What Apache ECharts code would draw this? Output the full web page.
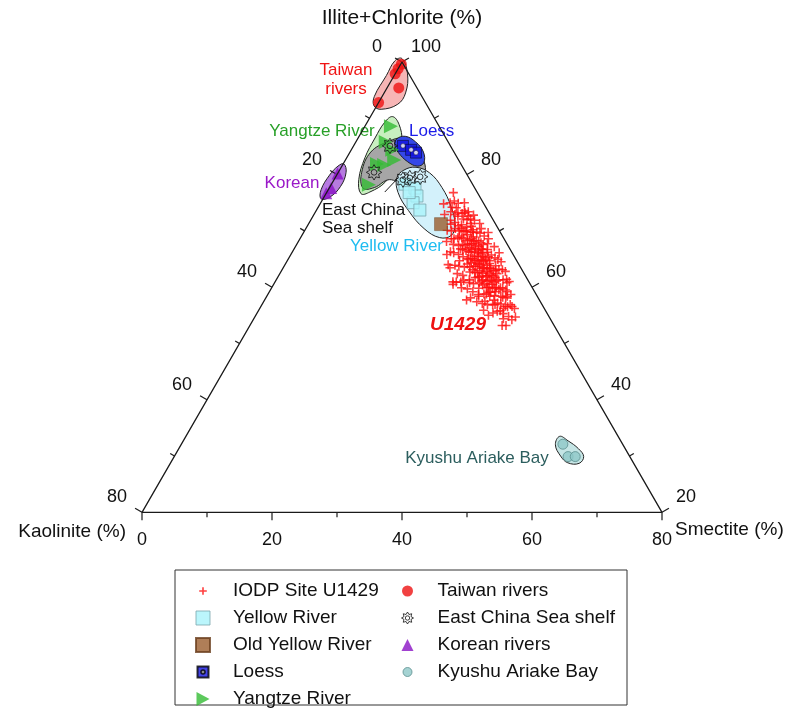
<!DOCTYPE html>
<html>
<head>
<meta charset="utf-8">
<title>Clay minerals ternary</title>
<script src="https://cdn.jsdelivr.net/npm/echarts/dist/echarts.min.js"></script>
<style>
  html, body { margin: 0; padding: 0; background: #fff; }
  #chart { width: 788px; height: 718px; }
</style>
</head>
<body>
<div id="chart"></div>
<script>
// every point is [smectite %, kaolinite %]; illite+chlorite = 100 - smectite - kaolinite
const u1429 = [
  [19.5, 3.7], [19.9, 5.1], [20.4, 4.3], [19.0, 6.2], [20.8, 5.8], [21.2, 3.9], [21.5, 6.6], [20.1, 7.0],
  [22.0, 4.8], [21.7, 5.4], [22.4, 6.1], [22.8, 3.6], [23.1, 3.7], [23.9, 3.5], [22.6, 7.4], [22.8, 9.1],
  [21.9, 8.0], [24.0, 10.2],
  [23.4, 4.5], [23.6, 5.3], [23.8, 6.2], [24.0, 4.0], [24.2, 7.0], [24.4, 5.6], [24.6, 4.7], [24.8, 6.4],
  [24.1, 8.3], [25.0, 5.1], [25.1, 10.9], [25.3, 3.9], [25.5, 6.9], [25.65, 10.9], [25.7, 4.5], [25.9, 5.8],
  [25.0, 7.6], [24.5, 3.4], [26.0, 7.3], [26.1, 4.2], [26.3, 6.1], [26.4, 5.0], [25.8, 8.4], [26.6, 3.6],
  [26.7, 7.9], [26.8, 5.5], [23.7, 7.7], [24.9, 9.0], [23.2, 5.9], [25.2, 2.9],
  [27.0, 4.8], [27.1, 6.6], [27.2, 3.2], [27.36, 11.7], [27.4, 5.9], [27.5, 7.4], [27.6, 11.9], [27.7, 4.1],
  [27.8, 8.6], [27.9, 5.3], [28.0, 6.9], [28.1, 2.8], [28.2, 4.6], [28.3, 9.6], [28.4, 6.1], [28.5, 5.0],
  [28.6, 7.8], [28.7, 3.7], [28.8, 6.5], [28.9, 5.6], [29.0, 4.3], [29.1, 8.2], [29.2, 7.1], [29.3, 3.0],
  [29.4, 5.9], [29.5, 6.8], [29.6, 4.9], [29.7, 9.0], [29.8, 5.4], [29.9, 7.5], [30.0, 3.8], [30.1, 6.2],
  [27.3, 10.3], [26.9, 9.4], [28.6, 10.5], [30.2, 4.6], [27.0, 2.6], [26.5, 8.8], [29.0, 2.4], [28.0, 7.9],
  [30.3, 5.2], [30.4, 7.9], [30.5, 6.6], [30.6, 4.0], [30.7, 8.7], [30.8, 5.8], [30.9, 3.4], [31.0, 7.2],
  [31.06, 11.2], [31.1, 5.0], [31.2, 6.3], [31.3, 9.5], [31.4, 4.4], [31.5, 7.7], [31.6, 5.6], [31.7, 3.1],
  [31.8, 6.9], [31.9, 8.3], [32.0, 4.7], [32.1, 5.9], [32.2, 7.4], [32.4, 8.9], [32.5, 3.7], [32.6, 6.4],
  [32.7, 5.2], [32.8, 9.8], [32.9, 4.1], [33.0, 7.0], [33.1, 5.7], [33.2, 8.0], [33.3, 3.5], [33.4, 6.6],
  [33.5, 4.8], [33.6, 7.6], [33.7, 5.4], [33.8, 9.1], [33.9, 3.0], [34.0, 6.1], [30.2, 10.1], [31.5, 10.4],
  [32.3, 2.8], [33.0, 2.5],
  [34.2, 4.5], [34.3, 7.3], [34.5, 5.5], [34.7, 8.4], [34.9, 3.8], [35.0, 6.5], [35.2, 4.9], [35.4, 3.2],
  [35.5, 7.6], [35.75, 3.45], [35.86, 7.24], [36.0, 5.6], [36.2, 4.3], [36.3, 8.3], [36.55, 4.25], [36.7, 6.3],
  [36.9, 5.0], [37.2, 7.0], [37.4, 3.9], [37.6, 5.8], [37.9, 6.8], [38.2, 4.9], [38.65, 4.8], [34.6, 9.5],
  [35.8, 9.2], [39.0, 6.2], [39.8, 6.0], [40.1, 5.2], [39.4, 7.4], [38.8, 8.0],
  [20.6, 5.2], [21.3, 4.6], [21.9, 6.9], [22.3, 5.1], [22.7, 4.2], [23.0, 6.6], [23.3, 8.1], [23.5, 3.1],
  [23.9, 5.7], [24.3, 6.6], [24.7, 5.3], [24.9, 3.8], [25.2, 6.2], [25.4, 5.3], [25.6, 7.6], [25.8, 4.0],
  [26.0, 6.6], [26.2, 5.4], [26.5, 4.6], [26.6, 6.9], [26.9, 6.1], [27.1, 5.2], [27.3, 4.4], [27.5, 6.3],
  [27.6, 5.0], [27.8, 7.3], [28.0, 5.7], [28.2, 3.9], [28.3, 6.6], [28.5, 7.2], [28.7, 5.2], [28.8, 4.4],
  [29.0, 6.2], [29.1, 5.0], [29.3, 7.6], [29.4, 4.5], [29.6, 6.3], [29.8, 3.5], [29.9, 6.0], [30.1, 5.1],
  [30.3, 7.1], [30.5, 4.7], [30.6, 6.0], [30.8, 7.4], [31.0, 5.6], [31.1, 4.2], [31.3, 6.7], [31.5, 5.2],
  [31.7, 7.2], [31.8, 4.8], [32.0, 6.2], [32.2, 5.4], [32.4, 7.0], [32.6, 4.5], [32.8, 6.0], [33.0, 5.0],
  [33.2, 6.9], [33.4, 4.2], [33.6, 5.9], [33.8, 7.1], [34.0, 4.9], [34.1, 6.8], [34.4, 5.8], [34.8, 6.0],
  [35.1, 5.3], [35.3, 7.0], [35.6, 4.6], [36.1, 6.7], [36.4, 5.4], [36.8, 7.5], [37.0, 4.6], [37.5, 6.3],
  [38.0, 5.5], [38.4, 7.2], [39.2, 4.6],
  [22.1, 2.9], [24.6, 2.6], [26.3, 2.4], [28.4, 1.9], [30.6, 2.2], [31.9, 2.0], [34.5, 2.7], [36.0, 3.0],
  [24.3, 9.4], [26.2, 9.9], [28.9, 9.9], [30.0, 9.2], [32.6, 9.0], [34.0, 8.5], [29.2, 10.9], [27.9, 11.2]
];
const taiwanRivers = [[0.1, 0.3], [0, 1.2], [0, 2.1], [1.8, 2.8], [0, 7.2]];
const yellowRiver = [[11.3, 10.4], [13.2, 9.2], [14.2, 9.6], [14.2, 10.8], [15.9, 10.4], [12.7, 10.5]];
const oldYellowRiver = [[20.4, 8.4]];
const loess = [[7.6, 7.3], [9.2, 6.4], [10.2, 5.9]];
const yangtze = [[4.0, 7.4], [4.6, 9.6], [6.3, 9.3], [7.5, 9.9], [5.2, 12.9], [5.8, 16.0], [6.4, 11.9]];
const ecsShelf = [[5.6, 9.3], [5.5, 14.1], [11.5, 9.1], [13.0, 7.4], [10.6, 10.3]];
const korean = [[0, 19.8], [0.3, 22.1], [0, 23.3]];
const kyushu = [[58.7, 9.2], [60.6, 9.5], [61.7, 8.4]];

// outlines of the source fields
const taiwanField = [[-0.3, -0.3], [1.9, 0.2], [3.3, 2.2], [3.1, 4.4], [1.0, 7.4], [-0.4, 8.2], [-1.2, 7.3], [-1.2, 3.6], [-1.2, 1.0]];
const yangtzeField = [[3.4, 6.3], [5.1, 6.0], [7.0, 7.0], [8.3, 9.3], [8.1, 13.2], [6.6, 16.5], [5.4, 18.0], [3.8, 17.1], [2.8, 14.2], [2.6, 10.9], [2.7, 8.0]];
const ecsField = [[3.2, 12.8], [5.0, 9.1], [6.9, 6.7], [9.8, 5.6], [12.7, 5.6], [13.6, 7.7], [11.4, 10.5], [8.5, 12.4], [6.9, 15.4], [5.2, 17.2], [3.6, 16.0]];
const loessField = [[6.0, 7.7], [7.1, 6.1], [9.2, 5.0], [11.3, 4.7], [12.3, 5.6], [11.6, 6.9], [9.7, 8.0], [7.5, 8.6], [6.3, 8.5]];
const yellowField = [[9.5, 11.1], [9.9, 9.3], [11.5, 7.2], [14.1, 5.6], [17.3, 5.0], [20.4, 5.3], [22.6, 6.3], [23.0, 7.8], [21.4, 9.8], [18.2, 11.4], [14.2, 12.2], [11.0, 12.2]];
const koreanField = [[0.1, 18.0], [1.2, 18.4], [1.6, 20.5], [0.9, 23.1], [-0.3, 24.6], [-1.1, 23.8], [-1.1, 21.2], [-0.6, 19.1]];
const kyushuField = [[57.5, 9.0], [59.2, 8.1], [61.5, 7.2], [63.0, 7.1], [62.9, 8.4], [61.1, 10.1], [59.4, 10.6], [57.6, 10.4]];
const ecsLeader = [[8.9, 14.2], [9.7, 10.9]];

// axis ticks
const tickSteps = [0, 10, 20, 30, 40, 50, 60, 70, 80];
const labelSteps = [0, 20, 40, 60, 80];

const FONT = '"Liberation Sans", Arial, sans-serif';
const SQ3 = Math.sqrt(3) / 2;

// ternary -> cartesian (bottom-left corner = 0,0, side length 80)
function toXY(p) {
  const h = 80 - p[0] - p[1];
  return [p[0] + h / 2, h * SQ3];
}

const icons = {
  plus: 'path://M0,0M14,14M6.2,3.2H7.8V6.2H10.8V7.8H7.8V10.8H6.2V7.8H3.2V6.2H6.2Z',
  square: 'path://M0,0H14V14H0Z',
  loess: 'path://M0,0M14,14M1.5,1.5H12.5V12.5H1.5Z M7,5.2A1.8,1.8 0 1 0 7,8.8A1.8,1.8 0 1 0 7,5.2Z',
  triRight: 'path://M0,0L13,7L0,14Z',
  circle: 'path://M0,0M14,14M7,1.5A5.5,5.5 0 1 1 7,12.5A5.5,5.5 0 1 1 7,1.5Z',
  sun: 'path://M0,0M14,14M13,7L10.51,8.45L11.24,11.24L8.45,10.51L7,13L5.55,10.51L2.76,11.24L3.49,8.45L1,7L3.49,5.55L2.76,2.76L5.55,3.49L7,1L8.45,3.49L11.24,2.76L10.51,5.55Z M9.2,7A2.2,2.2 0 1 1 4.8,7A2.2,2.2 0 1 1 9.2,7Z',
  triUp: 'path://M0,0M14,14M7,1L13,13H1Z',
  smallCircle: 'path://M0,0M14,14M7,2.5A4.5,4.5 0 1 1 7,11.5A4.5,4.5 0 1 1 7,2.5Z'
};

function field(name, pts, fill) {
  return {
    type: 'custom',
    name: name,
    silent: true,
    data: [[40, 30]],
    renderItem: function (params, api) {
      return {
        type: 'polygon',
        shape: { points: pts.map(p => api.coord(toXY(p))), smooth: 0.4 },
        style: { fill: fill, stroke: '#222', lineWidth: 1 }
      };
    }
  };
}

function points(name, arr, symbol, size, style) {
  return {
    type: 'scatter',
    name: name,
    data: arr.map(toXY),
    symbol: symbol,
    symbolSize: size,
    itemStyle: style
  };
}

// tick items: [smectite, kaolinite, side, label or -1]
const tickData = [];
tickSteps.forEach(t => {
  const lab = labelSteps.indexOf(t) >= 0;
  tickData.push([t, 80 - t, 0, lab ? t : -1]);        // Smectite, bottom side
  tickData.push([0, t, 1, lab ? t : -1]);             // Kaolinite, left side
  tickData.push([80 - t, 0, 2, lab ? 20 + t : -1]);   // Illite+Chlorite, right side
});
const tickDir = [[0, 1], [-0.866, -0.5], [0.866, -0.5]];
const labelOff = [[0, 28], [-25, -15], [24, -15]];

const legendText = { fontSize: 19, lineHeight: 19, color: '#111', fontFamily: FONT };

const chart = echarts.init(document.getElementById('chart'));
const option = {
  animation: false,
  textStyle: { fontFamily: FONT },
  grid: { left: 142, top: 62, width: 520, height: 450.33 },
  xAxis: { type: 'value', min: 0, max: 80, show: false },
  yAxis: { type: 'value', min: 0, max: 80 * SQ3, show: false },
  legend: [
    {
      orient: 'vertical', left: 190, top: 576.5, itemWidth: 50, itemHeight: 14, itemGap: 8,
      selectedMode: false,
      textStyle: legendText,
      data: [
        { name: 'IODP Site U1429', icon: icons.plus },
        { name: 'Yellow River', icon: icons.square, itemStyle: { borderWidth: 1 } },
        { name: 'Old Yellow River', icon: icons.square },
        { name: 'Loess', icon: icons.loess },
        { name: 'Yangtze River', icon: icons.triRight }
      ]
    },
    {
      orient: 'vertical', left: 395, top: 576.5, itemWidth: 50, itemHeight: 14, itemGap: 8,
      selectedMode: false,
      textStyle: legendText,
      data: [
        { name: 'Taiwan rivers', icon: icons.circle },
        { name: 'East China Sea shelf', icon: icons.sun, itemStyle: { borderWidth: 1 } },
        { name: 'Korean rivers', icon: icons.triUp },
        { name: 'Kyushu Ariake Bay', icon: icons.smallCircle, itemStyle: { borderWidth: 1 } }
      ]
    }
  ],
  graphic: [
    { type: 'rect', shape: { x: 175, y: 570, width: 452, height: 135 }, style: { fill: 'none', stroke: '#333', lineWidth: 1 } },
    { type: 'text', x: 402, y: 18, style: { text: 'Illite+Chlorite (%)', font: '21px ' + FONT, fill: '#111', align: 'center', verticalAlign: 'middle' } },
    { type: 'text', x: 126, y: 532, style: { text: 'Kaolinite (%)', font: '19px ' + FONT, fill: '#111', align: 'right', verticalAlign: 'middle' } },
    { type: 'text', x: 675, y: 530, style: { text: 'Smectite (%)', font: '19px ' + FONT, fill: '#111', align: 'left', verticalAlign: 'middle' } },
    { type: 'text', x: 346, y: 80, style: { text: 'Taiwan\nrivers', font: '17px ' + FONT, lineHeight: 19, fill: '#f01414', align: 'center', verticalAlign: 'middle' } },
    { type: 'text', x: 322, y: 131, style: { text: 'Yangtze River', font: '17px ' + FONT, fill: '#28a028', align: 'center', verticalAlign: 'middle' } },
    { type: 'text', x: 409, y: 131, style: { text: 'Loess', font: '17px ' + FONT, fill: '#1c1ce8', align: 'left', verticalAlign: 'middle' } },
    { type: 'text', x: 292, y: 183, style: { text: 'Korean', font: '17px ' + FONT, fill: '#9a18c8', align: 'center', verticalAlign: 'middle' } },
    { type: 'text', x: 322, y: 219, style: { text: 'East China\nSea shelf', font: '17px ' + FONT, lineHeight: 18, fill: '#111', align: 'left', verticalAlign: 'middle' } },
    { type: 'text', x: 443, y: 246, style: { text: 'Yellow River', font: '17px ' + FONT, fill: '#1ebcf0', align: 'right', verticalAlign: 'middle' } },
    { type: 'text', x: 458, y: 325, style: { text: 'U1429', font: 'italic bold 19px ' + FONT, fill: '#ee1111', align: 'center', verticalAlign: 'middle' } },
    { type: 'text', x: 477, y: 458, style: { text: 'Kyushu Ariake Bay', font: '17px ' + FONT, fill: '#2c5e5e', align: 'center', verticalAlign: 'middle' } }
  ],
  series: [
    field('Taiwan field', taiwanField, '#f7b5b5'),
    field('Yangtze field', yangtzeField, '#c8efc0'),
    field('ECS field', ecsField, '#a6a6a6'),
    field('Yellow field', yellowField, '#d3f1fb'),
    field('Loess field', loessField, '#3448e8'),
    field('Korean field', koreanField, '#b67be0'),
    field('Kyushu field', kyushuField, '#c5e5e5'),
    {
      type: 'line', name: 'frame', silent: true, symbol: 'none',
      data: [[0, 0], [0, 80], [80, 0], [0, 0]].map(toXY),
      lineStyle: { color: '#1a1a1a', width: 1.3 }
    },
    {
      type: 'line', name: 'ecs leader', silent: true, symbol: 'none',
      data: ecsLeader.map(toXY),
      lineStyle: { color: '#1a1a1a', width: 1 }
    },
    {
      type: 'custom', name: 'ticks', silent: true,
      data: tickData,
      renderItem: function (params, api) {
        const side = api.value(2), lab = api.value(3);
        const pt = api.coord(toXY([api.value(0), api.value(1)]));
        const d = tickDir[side];
        const len = lab >= 0 ? 8 : 5;
        const children = [{
          type: 'line',
          shape: { x1: pt[0], y1: pt[1], x2: pt[0] + d[0] * len, y2: pt[1] + d[1] * len },
          style: { stroke: '#1a1a1a', lineWidth: 1.2 }
        }];
        if (lab >= 0) {
          children.push({
            type: 'text',
            x: pt[0] + labelOff[side][0], y: pt[1] + labelOff[side][1],
            style: { text: String(lab), font: '18px ' + FONT, fill: '#111', align: 'center', verticalAlign: 'middle' }
          });
        }
        return { type: 'group', children: children };
      }
    },
    points('IODP Site U1429', u1429, 'path://M3.3,0H4.7V3.3H8V4.7H4.7V8H3.3V4.7H0V3.3H3.3Z', 9, { color: '#ff1010' }),
    points('Yellow River', yellowRiver, 'rect', 12, { color: '#aaf4fb', borderColor: '#7aa5ad', borderWidth: 1 }),
    points('Old Yellow River', oldYellowRiver, 'rect', 13, { color: '#9b5e2e', borderColor: '#6a3f1e', borderWidth: 0.5 }),
    points('Loess', loess, 'rect', 11, { color: '#1414e0', borderColor: '#000', borderWidth: 0.6 }),
    points('Loess dots', loess, 'circle', 4.5, { color: '#fff', borderColor: '#222', borderWidth: 0.6 }),
    points('Yangtze River', yangtze, 'path://M0,0L13,7L0,14Z', 14, { color: '#33bb33' }),
    points('Taiwan rivers', taiwanRivers, 'circle', 11, { color: '#ee1111' }),
    points('East China Sea shelf', ecsShelf, icons.sun, 18, { color: 'rgba(0,0,0,0)', borderColor: '#111', borderWidth: 1 }),
    points('Korean rivers', korean, 'triangle', 12, { color: '#8a12c4' }),
    points('Kyushu Ariake Bay', kyushu, 'circle', 10, { color: '#8fc8c8', borderColor: '#5d8f8f', borderWidth: 1 })
  ]
};
chart.setOption(option);
</script>
</body>
</html>
